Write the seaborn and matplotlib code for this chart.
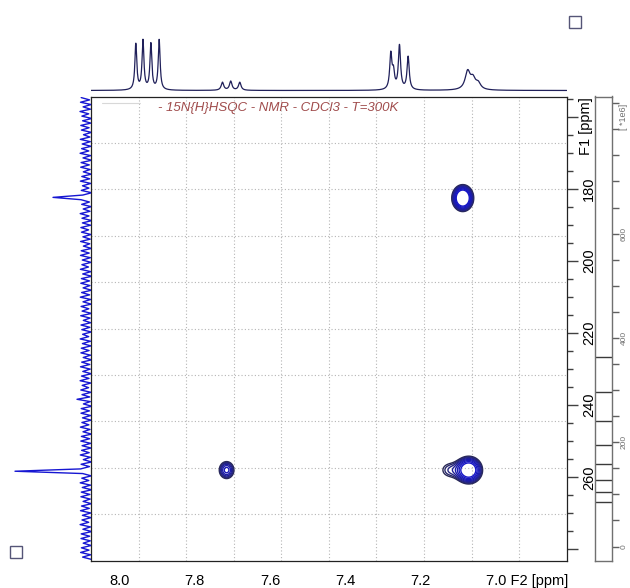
import numpy as np
import matplotlib
matplotlib.use("Agg")
import matplotlib.pyplot as plt
from matplotlib.patches import Rectangle
from matplotlib.ticker import MultipleLocator, FuncFormatter
from matplotlib.transforms import ScaledTranslation
import seaborn as sns

# ---- data ----
f2_range = [8.075, 6.812]      # 1H axis (ppm), left -> right
f1_range = [154.3, 283.1]      # 15N axis (ppm), top -> bottom

f2_ticks = [8.0, 7.8, 7.6, 7.4, 7.2, 7.0]
f2_labels = ['8.0', '7.8', '7.6', '7.4', '7.2', '7.0 F2 [ppm]']
f1_ticks = [160, 180, 200, 220, 240, 260, 280]
f1_labels = ['', '180', '200', '220', '240', '260', '']

# 1H projection: peak position, height, half width
h_pos = [7.956, 7.937, 7.916, 7.894, 7.726, 7.704, 7.680,
         7.279, 7.272, 7.256, 7.233, 7.075, 7.061, 7.047]
h_height = [46, 49, 46, 50, 8, 9, 8, 35, 16, 44, 33, 18, 10, 6]
h_width = [0.003, 0.003, 0.003, 0.003, 0.004, 0.004, 0.004,
           0.0035, 0.0035, 0.0035, 0.0035, 0.008, 0.008, 0.008]

# cross peaks: F2, F1, amplitude (*1e6), widths
cp_f2 = [7.088, 7.072, 7.122, 7.715]
cp_f1 = [182.5, 258.0, 258.0, 258.0]
cp_amp = [800, 600, 125, 270]
cp_sf2 = [0.0138, 0.0186, 0.021, 0.0128]
cp_sf1 = [1.77, 1.95, 1.8, 1.55]

# contour levels (*1e6)
levels = [85, 104, 128, 158, 195, 240, 296, 363]
level_colors = ['#2a2a55', '#28286a', '#242480', '#202096',
                '#1c1ca8', '#1a1ab4', '#1818be', '#1616c6']

# 15N projection: noise trace and the two peaks
noise_left = [
    4.8, -3.6, 5.5, -5.1, 2.9, -4.4, 6.0, -2.7, 4.1, -5.8,
    3.4, -4.9, 5.2, -3.1, 4.6, -5.5, 2.5, -3.9, 5.7, -4.3,
    3.8, -5.0, 4.4, -2.8, 5.9, -4.7, 3.0, -5.6, 4.9, -3.3,
    5.3, -4.1, 2.7, -5.3, 4.2, -3.7, 5.6, -4.8, 3.5, -2.9,
    4.7, -5.7, 3.2, -4.5, 5.0, -3.4, 4.3, -5.2, 2.8, -4.0,
    5.8, -3.0, 4.0, -5.9, 3.6, -4.6, 5.1, -2.6, 4.5, -5.0,
    3.1, -4.2, 5.4, -3.8, 2.6, -5.4, 4.8, -3.2, 5.5, -4.4,
    3.7, -5.1, 4.1, -2.5, 5.6, -4.9, 3.3, -5.8, 4.6, -3.5,
    5.2, -4.0, 2.9, -5.5, 4.4, -3.6, 5.7, -4.7, 3.0, -5.2,
    4.9, -2.8, 3.9, -5.6, 5.3, -4.1, 2.7, -4.8, 5.0, -3.9,
    4.2, -5.3, 3.4, -2.7, 5.8, -4.5, 3.6, -5.0, 4.7, -3.1,
    5.1, -4.6, 2.8, -5.7, 4.3, -3.8, 5.5, -4.2, 3.2, -5.4,
    4.5, -3.0, 5.9, -4.9, 3.8, -2.6, 5.2, -5.1, 4.0, -3.7,
    9.0, -4.3, 2.6, -5.9, 4.8, -3.4, 5.0, -4.7, 3.5, -5.2,
    4.1, -2.9, 5.6, -4.0, 3.0, -5.5, 4.6, -3.6, 5.2, -4.8,
    3.9, -5.0, 4.4, -3.2, 5.7, -4.4, 2.7, -5.6, 4.9, -3.5,
    5.3, -4.1, 3.3, -5.3, 4.2, -2.8, 5.8, -4.6, 3.7, -5.7,
    4.7, -3.9, 5.1, -4.2, 2.9, -5.4, 4.5, -3.3, 5.5, -4.9,
    3.6, -5.1, 4.0, -2.7, 5.9, -4.5, 3.1, -5.8, 4.8, -3.7,
    5.0, -4.3, 2.8, -5.2, 4.6, -3.0, 5.4, -4.7, 3.4, -5.5,
]
n_peak_f1 = [182.5, 258.0]
n_peak_height = [33, 71]

# ---- style ----
sns.set_style('white')
plt.rcParams['font.family'] = ['Liberation Sans', 'DejaVu Sans']

W, H = 630, 588
fig = plt.figure(figsize=(W / 100, H / 100), dpi=100)


def box(x0, y0, x1, y1):
    # pixel box (top-left origin) -> figure fraction
    return [x0 / W, 1 - y1 / H, (x1 - x0) / W, (y1 - y0) / H]


ax = fig.add_axes(box(91, 96.5, 566.7, 560.5))
ax_top = fig.add_axes(box(91, 25, 566.7, 92.5))
ax_left = fig.add_axes(box(5, 96.5, 91, 560.5))
ax_lev = fig.add_axes(box(595, 96.5, 611.7, 560.5))

# ---- main 2D contour ----
g2 = np.linspace(f2_range[0], f2_range[1], 900)
g1 = np.linspace(f1_range[0], f1_range[1], 700)
X, Y = np.meshgrid(g2, g1)
Z = np.zeros_like(X)
for p2, p1, a, s2, s1 in zip(cp_f2, cp_f1, cp_amp, cp_sf2, cp_sf1):
    Z += a * np.exp(-0.5 * (((X - p2) / s2) ** 2 + ((Y - p1) / s1) ** 2))
ax.contour(X, Y, Z, levels=levels, colors=level_colors, linewidths=1.0, zorder=3)

ax.set_xlim(f2_range)
ax.set_ylim(f1_range[1], f1_range[0])

grid_kw = dict(color='#b5b5b5', lw=0.8, ls=(0, (1, 2)), zorder=1)
for xv in np.linspace(f2_range[0], f2_range[1], 11)[1:-1]:
    ax.axvline(xv, **grid_kw)
for yv in np.linspace(f1_range[0], f1_range[1], 11)[1:-1]:
    ax.axhline(yv, **grid_kw)

ax.set_xticks(f2_ticks)
ax.set_xticklabels(f2_labels)
ax.xaxis.set_minor_locator(MultipleLocator(0.05))
ax.yaxis.tick_right()
ax.set_yticks(f1_ticks)
ax.set_yticklabels(f1_labels)
ax.yaxis.set_minor_locator(MultipleLocator(5))
ax.tick_params(which='major', direction='out', length=8, width=1,
               color='#404040', labelsize=10.5, pad=2, labelcolor='#000000')
ax.tick_params(which='minor', direction='out', length=4, width=1, color='#404040')
ax.tick_params(axis='y', labelrotation=90, pad=3)
for lab in ax.get_yticklabels():
    lab.set_va('center')
last = ax.get_xticklabels()[-1]
last.set_ha('left')
last.set_transform(last.get_transform() + ScaledTranslation(-0.095, 0, fig.dpi_scale_trans))
for s in ax.spines.values():
    s.set_color('#222222')
    s.set_linewidth(0.9)

ax.text(7.8965, 157.4, '- 15N{H}HSQC - NMR - CDCl3 - T=300K', fontsize=9.5,
        style='italic', color='#a04c4c', ha='left', va='center', zorder=4)
ax.plot([8.045, 7.945], [156.1, 156.1], color='#d8d8d8', lw=0.8, zorder=2)

fig.text(586 / W, 1 - 126 / H, 'F1 [ppm]', rotation=90, fontsize=10.5,
         ha='center', va='center', color='#000000')

# ---- 1H projection on top ----
h_ppm = np.linspace(f2_range[0], f2_range[1], 2500)
h_trace = np.zeros_like(h_ppm)
for p, hh, w in zip(h_pos, h_height, h_width):
    h_trace += hh / (1 + ((h_ppm - p) / w) ** 2)
sns.lineplot(x=h_ppm, y=h_trace, ax=ax_top, color='#20205a', lw=0.9,
             estimator=None, sort=False)
ax_top.set_xlim(f2_range)
ax_top.set_ylim(-2, 65.5)
ax_top.axis('off')

# ---- 15N projection on the left ----
n_ppm = np.linspace(f1_range[0] + 0.3, f1_range[1] - 0.3, len(noise_left))
n_trace = np.array(noise_left)
for p, hh in zip(n_peak_f1, n_peak_height):
    n_trace[np.argmin(np.abs(n_ppm - p))] = hh
sns.lineplot(x=n_trace, y=n_ppm, ax=ax_left, color='#1616d2', lw=1.0,
             estimator=None, sort=False)
ax_left.set_xlim(81, -5)
ax_left.set_ylim(f1_range[1], f1_range[0])
ax_left.axis('off')
ax_left.set_zorder(5)

# ---- contour level bar ----
for v in levels:
    ax_lev.axhline(v, color='#3a3a3a', lw=1)
ax_lev.set_ylim(-26.8, 863)
ax_lev.set_xlim(0, 1)
ax_lev.set_xticks([])
ax_lev.yaxis.tick_right()
ax_lev.set_yticks(np.arange(0, 851, 50))
ax_lev.yaxis.set_major_formatter(
    FuncFormatter(lambda v, pos: str(int(v)) if int(v) in (0, 200, 400, 600) else ''))
ax_lev.tick_params(axis='y', direction='out', length=5, width=1, color='#606060',
                   labelsize=6, labelcolor='#707070', labelrotation=90, pad=1.5)
for lab in ax_lev.get_yticklabels():
    lab.set_va('center')
for s in ax_lev.spines.values():
    s.set_color('#707070')
    s.set_linewidth(1)
fig.text(623 / W, 1 - 117 / H, '[ *1e6]', rotation=90, fontsize=6.5,
         ha='center', va='center', color='#707070')

# ---- little squares ----
for x0, y0 in [(569, 16), (10, 546)]:
    fig.add_artist(Rectangle((x0 / W, 1 - (y0 + 12) / H), 12 / W, 12 / H,
                             transform=fig.transFigure, fill=False,
                             ec='#555577', lw=1))

fig.savefig('out.png', dpi=100)
